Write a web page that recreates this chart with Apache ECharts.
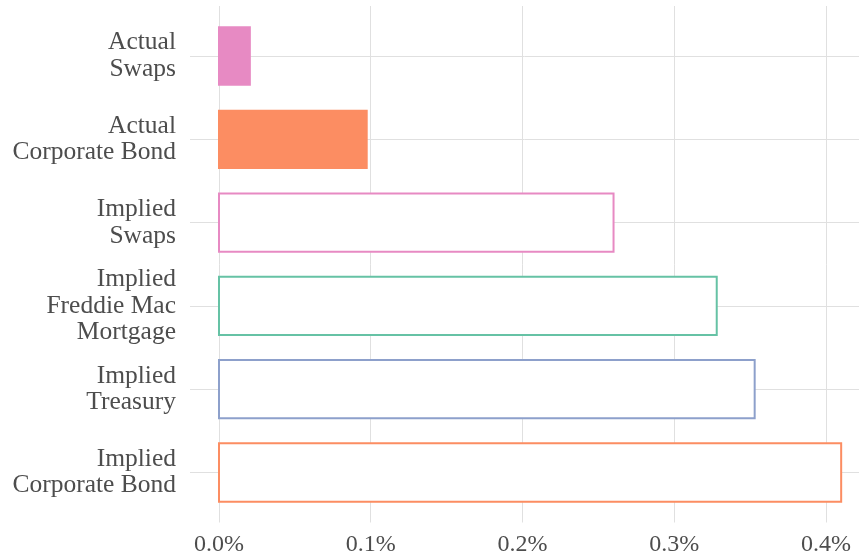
<!DOCTYPE html>
<html>
<head>
<meta charset="utf-8">
<script src="https://cdn.jsdelivr.net/npm/echarts@6/dist/echarts.min.js"></script>
<style>html,body{margin:0;padding:0;background:#fff;}#c{width:859px;height:557px;}</style>
</head>
<body>
<div id="c"></div>
<script>
// Categories from top to bottom
const categories = [
  "Actual\nSwaps",
  "Actual\nCorporate Bond",
  "Implied\nSwaps",
  "Implied\nFreddie Mac\nMortgage",
  "Implied\nTreasury",
  "Implied\nCorporate Bond"
];
// Values in percent
const values = [0.021, 0.098, 0.260, 0.328, 0.353, 0.410];
// Type of each bar (Actual = filled, Implied = outline)
const kinds = ["Actual", "Actual", "Implied", "Implied", "Implied", "Implied"];
const xTicks = [0, 0.1, 0.2, 0.3, 0.4];

// style config
const barColors = ["#E78AC3", "#FC8D62", "#E78AC3", "#66C2A5", "#8DA0CB", "#FC8D62"];

const positions = categories.map((_, i) => i + 1);
const data = values.map((v, i) => [v, positions[i]]);

const chart = echarts.init(document.getElementById('c'), null, {renderer: 'canvas'});
const font = "'Liberation Serif', 'DejaVu Serif', serif";
chart.setOption({
  backgroundColor: '#ffffff',
  animation: false,
  grid: {left: 190, right: 0, top: 6, bottom: 34.5, containLabel: false},
  xAxis: {
    type: 'value',
    min: -0.01911,
    max: 0.42175,
    axisLine: {show: false},
    axisTick: {show: false, customValues: xTicks},
    axisLabel: {
      customValues: xTicks,
      formatter: v => v.toFixed(1) + '%',
      fontFamily: font, fontSize: 24, color: '#4d4d4d', margin: 10
    },
    splitLine: {show: true, lineStyle: {color: '#e0e0e0', width: 1}}
  },
  yAxis: {
    type: 'value',
    inverse: true,
    min: 0.4,
    max: 6.6,
    axisLine: {show: false},
    axisTick: {show: false, customValues: positions},
    axisLabel: {
      customValues: positions,
      formatter: v => categories[Math.round(v) - 1] || '',
      fontFamily: font, fontSize: 25.5, color: '#4d4d4d', lineHeight: 26.5,
      align: 'right', margin: 14, padding: [4, 0, 0, 0]
    },
    splitLine: {show: true, lineStyle: {color: '#e0e0e0', width: 1}}
  },
  series: [{
    type: 'custom',
    data: data,
    encode: {x: 0, y: 1},
    clip: false,
    renderItem: function (params, api) {
      const v = api.value(0), p = api.value(1);
      const s = api.coord([0, p]);
      const e = api.coord([v, p]);
      const band = api.size([0, 1])[1];
      const i = params.dataIndex;
      const filled = kinds[i] === 'Actual';
      const h = band * 0.7;
      if (filled) {
        return {type: 'rect', shape: {x: s[0] - 1, y: s[1] - h / 2 - 0.5, width: e[0] - s[0] + 1, height: h + 1},
          style: {fill: barColors[i]}};
      }
      return {type: 'rect', shape: {x: s[0], y: s[1] - h / 2, width: e[0] - s[0], height: h},
        style: {fill: '#ffffff', stroke: barColors[i], lineWidth: 2}};
    }
  }]
});
</script>
</body>
</html>
